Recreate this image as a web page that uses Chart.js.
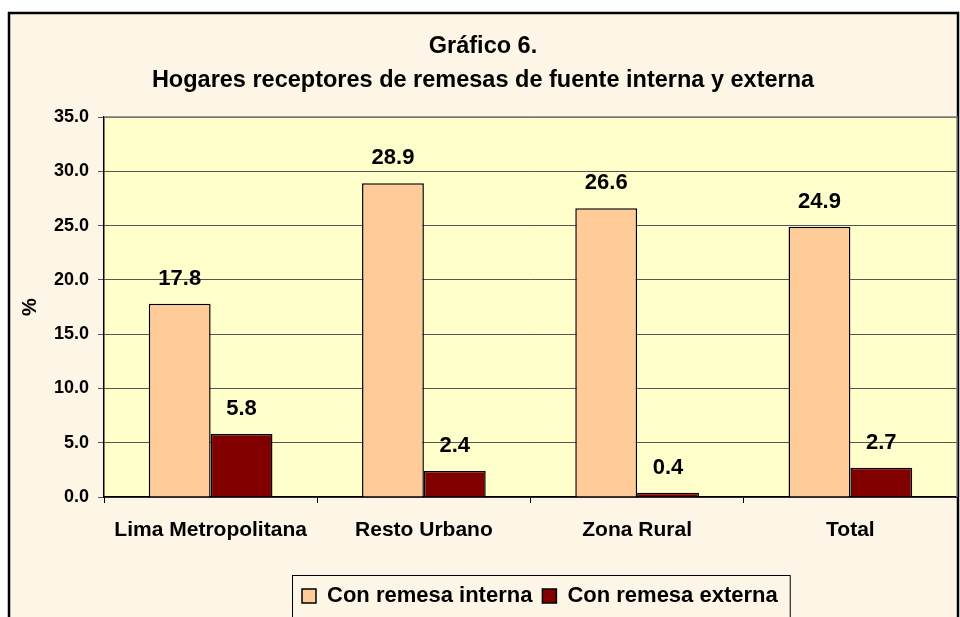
<!DOCTYPE html>
<html>
<head>
<meta charset="utf-8">
<title>Gráfico 6</title>
<script src="https://cdn.jsdelivr.net/npm/chart.js@4"></script>
<style>
  html, body { margin: 0; padding: 0; background: #fff; }
  #wrap { width: 960px; height: 617px; }
</style>
</head>
<body>
<div id="wrap"><canvas id="chart" width="960" height="617"></canvas></div>
<script>
// datos
var categorias = ['Lima Metropolitana', 'Resto Urbano', 'Zona Rural', 'Total'];
var remesaInterna = [17.8, 28.9, 26.6, 24.9];
var remesaExterna = [5.8, 2.4, 0.4, 2.7];
var ticksY = [0, 5, 10, 15, 20, 25, 30, 35];
var titulo = ['Gráfico 6.', 'Hogares receptores de remesas de fuente interna y externa'];

var FONT = "'Liberation Sans', Arial, sans-serif";

// fondo del marco y del area de trazado
var fondo = {
  id: 'fondo',
  afterLayout: function(chart) {
    // la leyenda del original no esta centrada, empieza hacia x=302
    var lg = chart.legend;
    if (!lg || !lg.lineWidths) return;
    var pad = lg.options.labels.padding;
    var inicio = (lg.left + pad + lg.right - lg.lineWidths[0]) / 2;
    var dx = 302 - inicio;
    lg.left += dx;
    lg.right += dx;
  },
  beforeDraw: function(chart) {
    var ctx = chart.ctx, a = chart.chartArea;
    ctx.save();
    ctx.fillStyle = '#ffffff';
    ctx.fillRect(0, 0, chart.width, chart.height);
    ctx.fillStyle = '#FDF5E6';
    ctx.fillRect(9, 13, 949, chart.height);
    ctx.strokeStyle = '#000';
    ctx.lineWidth = 2.5;
    ctx.strokeRect(9, 13, 949, chart.height + 10);
    ctx.fillStyle = '#FFFFCC';
    ctx.fillRect(a.left, a.top, a.right - a.left, a.bottom - a.top);
    ctx.restore();
  },
  afterDraw: function(chart) {
    var ctx = chart.ctx, a = chart.chartArea;
    ctx.save();
    // borde superior y derecho del area
    ctx.strokeStyle = '#808080';
    ctx.lineWidth = 1.5;
    ctx.beginPath();
    ctx.moveTo(a.left, a.top);
    ctx.lineTo(a.right, a.top);
    ctx.lineTo(a.right, a.bottom);
    ctx.stroke();
    // caja de la leyenda
    var hb = chart.legend.legendHitBoxes;
    if (hb && hb.length) {
      var l = hb[0].left - 10, r = hb[hb.length - 1].left + hb[hb.length - 1].width + 12;
      var t = hb[0].top - 10;
      ctx.strokeStyle = '#000';
      ctx.lineWidth = 1;
      ctx.strokeRect(l + 0.5, t + 0.5, r - l, chart.height);
    }
    ctx.restore();
  }
};

// etiquetas de valor encima de las barras
var etiquetas = {
  id: 'etiquetas',
  afterDatasetsDraw: function(chart) {
    var ctx = chart.ctx;
    ctx.save();
    ctx.font = 'bold 22px ' + FONT;
    ctx.fillStyle = '#000';
    ctx.textAlign = 'center';
    ctx.textBaseline = 'middle';
    chart.data.datasets.forEach(function(ds, i) {
      chart.getDatasetMeta(i).data.forEach(function(bar, j) {
        ctx.fillText(ds.data[j].toFixed(1), bar.x, bar.y - 25);
      });
    });
    ctx.restore();
  }
};

new Chart(document.getElementById('chart'), {
  type: 'bar',
  data: {
    labels: categorias,
    datasets: [
      { label: 'Con remesa interna', data: remesaInterna, backgroundColor: '#FFCC99',
        borderColor: '#000', borderWidth: 1.5 },
      { label: 'Con remesa externa', data: remesaExterna, backgroundColor: '#800000',
        borderColor: '#000', borderWidth: 1.5 }
    ]
  },
  options: {
    responsive: false,
    animation: false,
    layout: { padding: { left: 9, right: 3, top: 0, bottom: 0 } },
    datasets: { bar: { categoryPercentage: 0.58, barPercentage: 1.0 } },
    plugins: {
      title: {
        display: true,
        text: titulo,
        color: '#000',
        font: { family: FONT, size: 23.5, weight: 'bold', lineHeight: 1.447 },
        padding: { top: 30, bottom: 19 }
      },
      legend: {
        position: 'bottom',
        labels: {
          color: '#000',
          font: { family: FONT, size: 22, weight: 'bold' },
          boxWidth: 14, boxHeight: 14, padding: 10,
          useBorderRadius: false
        }
      },
      tooltip: { enabled: false }
    },
    scales: {
      x: {
        afterFit: function(scale) { scale.height = 78; },
        grid: { display: true, drawOnChartArea: false, drawTicks: true, tickLength: 6, color: '#000', offset: true },
        border: { display: true, color: '#000', width: 1.5 },
        ticks: { color: '#000', font: { family: FONT, size: 21, weight: 'bold' }, padding: 15, maxRotation: 0 }
      },
      y: {
        min: 0, max: 35,
        afterFit: function(scale) { scale.width = 95; },
        afterBuildTicks: function(scale) { scale.ticks = ticksY.map(function(v) { return { value: v }; }); },
        grid: { color: '#555', lineWidth: 1, tickLength: 6, drawTicks: true },
        border: { display: true, color: '#000', width: 1.5 },
        ticks: {
          color: '#000', padding: 9,
          font: { family: FONT, size: 18, weight: 'bold' },
          callback: function(v) { return Number(v).toFixed(1); }
        },
        title: {
          display: true, text: '%', color: '#000',
          font: { family: FONT, size: 20, weight: 'bold' },
          padding: { top: 9, bottom: 0 }
        }
      }
    }
  },
  plugins: [fondo, etiquetas]
});
</script>
</body>
</html>
